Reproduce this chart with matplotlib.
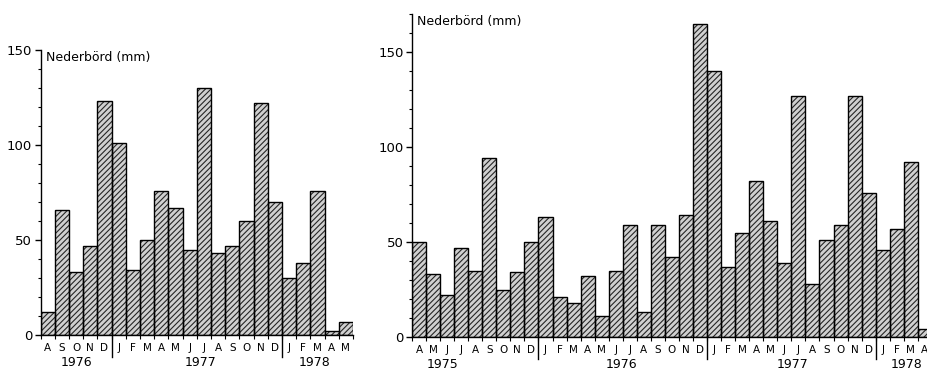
import matplotlib.pyplot as plt
import numpy as np

plt.rcParams['font.family'] = 'DejaVu Sans'
plt.rcParams['hatch.linewidth'] = 0.8
plt.rcParams['hatch.color'] = '#262626'

# left station: Aug 1976 - May 1978
months_left = ['A', 'S', 'O', 'N', 'D',
               'J', 'F', 'M', 'A', 'M', 'J', 'J', 'A', 'S', 'O', 'N', 'D',
               'J', 'F', 'M', 'A', 'M']
rain_left = [12, 66, 33, 47, 123,
             101, 34, 50, 76, 67, 45, 130, 43, 47, 60, 122, 70,
             30, 38, 76, 2, 7]
years_left = ['1976', '1977', '1978']

# right station: Apr 1975 - Apr 1978
months_right = ['A', 'M', 'J', 'J', 'A', 'S', 'O', 'N', 'D',
                'J', 'F', 'M', 'A', 'M', 'J', 'J', 'A', 'S', 'O', 'N', 'D',
                'J', 'F', 'M', 'A', 'M', 'J', 'J', 'A', 'S', 'O', 'N', 'D',
                'J', 'F', 'M', 'A']
rain_right = [50, 33, 22, 47, 35, 94, 25, 34, 50,
              63, 21, 18, 32, 11, 35, 59, 13, 59, 42, 64, 165,
              140, 37, 55, 82, 61, 39, 127, 28, 51, 59, 127, 76,
              46, 57, 92, 4]
years_right = ['1975', '1976', '1977', '1978']

W, H = 927, 370
fig = plt.figure(figsize=(W / 100, H / 100), dpi=100)


def make_axes(x0, x1, ybot, ytop):
    return fig.add_axes([x0 / W, 1 - ybot / H, (x1 - x0) / W, (ybot - ytop) / H])


def draw(ax, months, rain, top, years, year_pos, breaks, ax_h):
    x = np.arange(len(rain))
    ax.bar(x, rain, width=1, color='#d0d0d0', hatch='//////',
           edgecolor='#262626', linewidth=0)
    ax.bar(x, rain, width=1, fill=False, edgecolor='black', linewidth=1)
    ax.set_xlim(-0.5, len(rain) - 0.5)
    ax.set_ylim(0, top)
    for s in ['top', 'right']:
        ax.spines[s].set_visible(False)
    ax.spines['left'].set_linewidth(1)
    ax.spines['bottom'].set_linewidth(1)
    ax.set_yticks([0, 50, 100, 150])
    ax.set_yticks(np.arange(0, top + 1, 10), minor=True)
    ax.tick_params(axis='y', which='major', length=4, width=1, pad=2, labelsize=9.5)
    ax.tick_params(axis='y', which='minor', length=2, width=0.8)
    ax.set_xticks(x)
    ax.set_xticklabels(months)
    ax.set_xticks(np.arange(len(rain) + 1) - 0.5, minor=True)
    ax.tick_params(axis='x', which='major', length=0, pad=6, labelsize=7.5)
    ax.tick_params(axis='x', which='minor', length=3, width=0.8)
    for b in breaks:
        ax.plot([b, b], [0, -22 / ax_h], color='black', lw=1,
                transform=ax.get_xaxis_transform(), clip_on=False)
    for yr, p in zip(years, year_pos):
        ax.annotate(yr, xy=(p, 0), xycoords=('data', 'axes fraction'),
                    xytext=(0, -27), textcoords='offset pixels',
                    ha='center', va='center', fontsize=9)
    ax.annotate('Nederbörd (mm)', xy=(0, 1), xycoords='axes fraction',
                xytext=(5, -7), textcoords='offset pixels',
                ha='left', va='center', fontsize=9)


axl = make_axes(40.5, 353, 335, 50)
draw(axl, months_left, rain_left, 150, years_left, [2.0, 10.8, 18.8],
     [4.5, 16.5], 285)

axr = make_axes(412, 412 + 37 * 14.05, 337, 14)
draw(axr, months_right, rain_right, 170, years_right, [1.7, 14.4, 26.6, 34.7],
     [8.5, 20.5, 32.5], 323)

fig.savefig('out.png', dpi=100)
plt.close()
